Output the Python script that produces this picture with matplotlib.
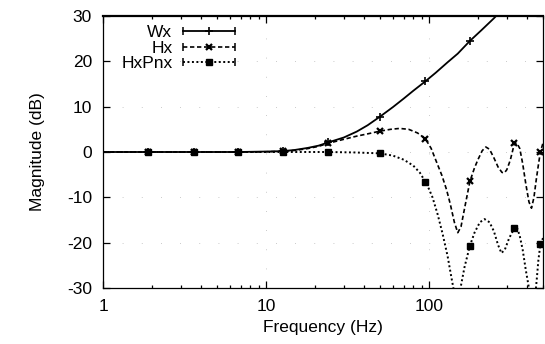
import numpy as np
import matplotlib
matplotlib.use("Agg")
import matplotlib.pyplot as plt
from matplotlib.lines import Line2D
from matplotlib.legend_handler import HandlerLine2D, HandlerTuple
from matplotlib.ticker import FixedLocator, LogLocator, NullFormatter, FixedFormatter

plt.rcParams['font.family'] = ['Liberation Sans', 'DejaVu Sans']
plt.rcParams['axes.unicode_minus'] = False

# frequencies where the points of each curve are marked
mark_f = [1.9, 3.6, 6.75, 12.7, 24, 50, 95, 178, 334, 482]

# Wx
wx_f = [1, 1.9, 3.6, 6.75, 10, 12.7, 15, 18, 21, 24, 30, 36, 42, 50, 60, 70, 80,
        95, 110, 130, 150, 178, 210, 250, 300]
wx_db = [0, 0, 0, 0, 0.1, 0.2, 0.45, 0.9, 1.4, 2.1, 3.2, 4.5, 5.9, 7.8, 9.9, 11.8,
         13.5, 15.6, 17.5, 19.8, 21.7, 24.5, 26.9, 29.5, 32.5]

# Hx
hx_f = [1, 1.9, 3.6, 6.75, 10, 12.7, 15, 18, 21, 24, 30, 36, 42, 50, 58, 66, 75,
        85, 95, 103, 110, 120, 128, 135, 143, 150, 157, 165, 178, 190, 200, 212,
        223, 235, 250, 265, 280, 290, 300, 315, 334, 345, 360, 375, 392, 410, 425,
        440, 455, 470, 482, 500]
hx_db = [0, 0, 0, 0, 0.05, 0.15, 0.35, 0.75, 1.25, 1.9, 2.8, 3.5, 4.0, 4.6, 5.0,
         5.2, 5.0, 4.2, 2.9, 0.8, -1.8, -5.2, -8.3, -11.5, -15.5, -17.8, -16.5,
         -12.5, -6.5, -3.5, -1.6, 0.3, 1.1, 0.6, -1.3, -3.3, -4.5, -4.6, -3.9,
         -1.8, 1.9, 2.0, 0.8, -2.5, -7.0, -11.0, -12.4, -10.0, -6.0, -2.5, 0.0, 2.0]

# HxPnx
pn_f = [1, 1.9, 3.6, 6.75, 12.7, 18, 24, 35, 50, 60, 70, 80, 88, 95, 100, 105,
        113, 121, 130, 137, 141, 146, 150, 155, 165, 178, 190, 205, 219, 235, 250,
        265, 278, 292, 310, 334, 345, 360, 375, 392, 410, 420, 435, 450, 458, 468,
        482, 500]
pn_db = [0, 0, 0, 0, 0, 0, 0, -0.1, -0.3, -0.8, -1.7, -3.0, -4.6, -6.6, -8.2,
         -10.0, -13.8, -18.0, -23.0, -27.6, -30.0, -33.0, -34.0, -30.5, -25.4,
         -20.7, -17.8, -15.5, -14.8, -15.5, -17.5, -20.5, -22.3, -21.5, -19.0,
         -16.8, -16.5, -18.5, -21.5, -26.0, -30.0, -33.0, -34.0, -31.0, -28.0,
         -24.0, -20.3, -19.0]

fig = plt.figure(figsize=(5.45, 3.44), dpi=100)
ax = fig.add_axes([103 / 545, 56 / 344, 440 / 545, 272 / 344])

series = [
    ("Wx", wx_f, wx_db, dict(ls='-', lw=1.3), dict(marker='+', ms=6, mew=1.2)),
    ("Hx", hx_f, hx_db, dict(ls=(0, (2.6, 1.6)), lw=1.2), dict(marker='x', ms=4.5, mew=1.6)),
    ("HxPnx", pn_f, pn_db, dict(ls=(0, (1.0, 1.3)), lw=1.4), dict(marker='s', ms=4)),
]

handles, labels = [], []
caps_handler = {}
for name, f, db, lstyle, mstyle in series:
    f = np.array(f)
    db = np.array(db)
    ax.plot(f, db, color='black', **lstyle)
    sel = np.isin(f, mark_f)
    ax.plot(f[sel], db[sel], ls='none', color='black', **mstyle)
    proxy = Line2D([], [], color='black', **lstyle, **mstyle)
    caps = Line2D([], [], ls='none', marker='|', ms=6, mew=1.1, color='black')
    caps_handler[caps] = HandlerLine2D(numpoints=2, marker_pad=0)
    handles.append((proxy, caps))
    labels.append(name)

caps_handler[tuple] = HandlerTuple(ndivide=1)
ax.legend(handles, labels, handler_map=caps_handler, loc='upper right',
          bbox_to_anchor=((235 - 103) / 440, (288 - 25) / 272),
          markerfirst=False, frameon=False, fontsize=12.5, handlelength=3.0,
          handletextpad=0.6, labelspacing=0.03, borderpad=0, borderaxespad=0)

ax.set_xscale('log')
ax.set_xlim(1, 500)
ax.set_ylim(-30, 30)
ax.xaxis.set_major_locator(FixedLocator([1, 10, 100]))
ax.xaxis.set_major_formatter(FixedFormatter(['1', '10', '100']))
ax.xaxis.set_minor_locator(LogLocator(base=10, subs=np.arange(2, 10)))
ax.xaxis.set_minor_formatter(NullFormatter())
ax.set_yticks([-30, -20, -10, 0, 10, 20, 30])

ax.grid(True, which='major', color='0.72', lw=0.6, ls=(0, (1, 22)))

ax.tick_params(which='both', direction='in', top=True, right=True,
               labelsize=12.5, width=0.9)
ax.tick_params(which='major', length=5, pad=8)
ax.tick_params(which='minor', length=2.5)
for side in ['left', 'right', 'bottom']:
    ax.spines[side].set_linewidth(0.9)
ax.spines['top'].set_linewidth(1.6)

ax.set_xlabel("Frequency (Hz)", fontsize=12.5, labelpad=4)
ax.set_ylabel("Magnitude (dB)", fontsize=12.5, labelpad=16)

fig.savefig("out.png", dpi=100)
